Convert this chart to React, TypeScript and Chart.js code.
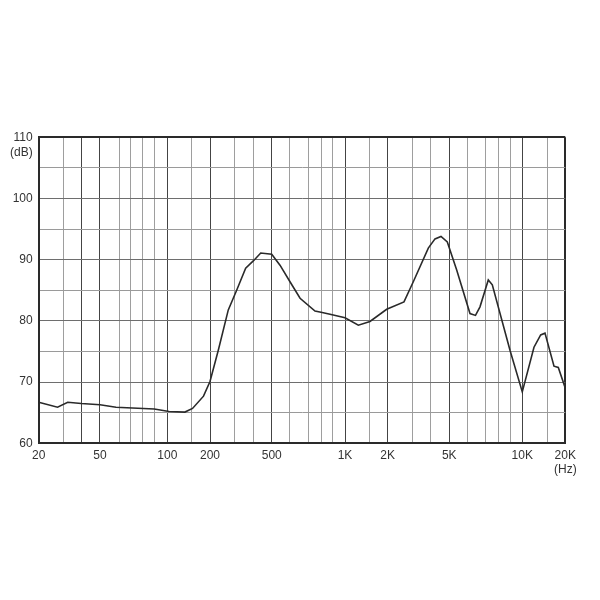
import React, { useEffect, useRef } from 'react';
import { Chart, LinearScale, registerables } from 'chart.js';

// Frequency response curve (Hz, dB)
const FREQ_HZ = [20, 27.3, 32.2, 40, 50, 58.3, 90, 103, 134, 152, 180.6, 200, 229.7, 271.4, 311, 356.4, 400, 437.7, 500, 543, 600, 653, 751, 800, 876, 1000, 1249, 1516, 1969, 2605, 3029, 3850, 4212, 4526, 4882, 5389, 6137, 6427, 6674, 7196, 7507, 8940, 10000, 12090, 13477, 14451, 16697, 17883, 20000];
const LEVEL_DB = [66.7, 65.9, 66.7, 66.5, 66.3, 65.9, 65.6, 65.2, 65.1, 65.7, 67.7, 70.1, 75.2, 81.8, 85.0, 88.6, 89.8, 91.1, 90.9, 89.1, 86.4, 83.7, 81.6, 81.4, 81.1, 80.5, 79.3, 79.9, 81.9, 83.1, 86.4, 91.9, 93.4, 93.8, 92.9, 88.3, 81.2, 80.9, 82.3, 86.7, 85.9, 75.2, 68.4, 75.7, 77.7, 78.0, 72.6, 72.4, 69.0];

// Vertical grid frequencies and the original chart's (non-uniform) axis calibration
const GRID_FREQS = [20, 30, 40, 50, 60, 70, 80, 90, 100, 150, 200, 300, 400, 500, 600, 700, 800, 900, 1000, 1500, 2000, 3000, 4000, 5000, 6000, 7000, 8000, 9000, 10000, 15000, 20000];
const GRID_FRACS = [0, 0.0467, 0.0809, 0.1164, 0.1525, 0.1747, 0.1975, 0.2195, 0.2442, 0.2905, 0.3253, 0.3714, 0.4075, 0.4425, 0.4772, 0.5120, 0.5361, 0.5583, 0.5817, 0.6278, 0.6627, 0.7102, 0.7444, 0.7797, 0.8139, 0.8488, 0.8728, 0.8963, 0.9183, 0.9658, 1];
const MAJOR_FREQS = [40, 50, 100, 200, 500, 1000, 2000, 5000, 10000];

// Tick labels
const X_LABEL_FREQS = [20, 50, 100, 200, 500, 1000, 2000, 5000, 10000, 20000];
const X_LABEL_TEXT = ['20', '50', '100', '200', '500', '1K', '2K', '5K', '10K', '20K'];
const X_UNIT = '(Hz)';
const Y_UNIT = '(dB)';
const Y_MIN = 60;
const Y_MAX = 110;
const Y_STEP = 5;

function freqToFrac(v: number): number {
  if (v <= GRID_FREQS[0]) return 0;
  for (let i = 1; i < GRID_FREQS.length; i++) {
    if (v <= GRID_FREQS[i]) {
      const fa = GRID_FREQS[i - 1], fb = GRID_FREQS[i];
      const t = Math.log(v / fa) / Math.log(fb / fa);
      return GRID_FRACS[i - 1] + t * (GRID_FRACS[i] - GRID_FRACS[i - 1]);
    }
  }
  return 1;
}
function fracToFreq(d: number): number {
  if (d <= 0) return GRID_FREQS[0];
  for (let i = 1; i < GRID_FRACS.length; i++) {
    if (d <= GRID_FRACS[i]) {
      const t = (d - GRID_FRACS[i - 1]) / (GRID_FRACS[i] - GRID_FRACS[i - 1]);
      return GRID_FREQS[i - 1] * Math.pow(GRID_FREQS[i] / GRID_FREQS[i - 1], t);
    }
  }
  return GRID_FREQS[GRID_FREQS.length - 1];
}

class WarpFreqScale extends LinearScale {
  static id = 'warpfreq';
  static defaults = {};
  buildTicks() {
    (this as any).start = (this as any).min;
    (this as any).end = (this as any).max;
    return GRID_FREQS.map((v) => ({ value: v }));
  }
  getPixelForValue(value: number) {
    if (value === null || value === undefined) return NaN;
    return this.getPixelForDecimal(freqToFrac(value));
  }
  getValueForPixel(pixel: number) {
    return fracToFreq(this.getDecimalForPixel(pixel));
  }
}

Chart.register(...registerables, WarpFreqScale);

const FONT_FAMILY = '"Liberation Sans", Arial, Helvetica, sans-serif';
const TEXT_COLOR = '#333333';

const unitPlugin = {
  id: 'unitLabels',
  afterDraw(chart: any) {
    const { ctx, chartArea, scales } = chart;
    const y = scales.y.getPixelForValue(Y_MAX);
    ctx.save();
    ctx.font = `12px ${FONT_FAMILY}`;
    ctx.fillStyle = TEXT_COLOR;
    ctx.textAlign = 'right';
    ctx.textBaseline = 'middle';
    ctx.fillText(Y_UNIT, chartArea.left - 6, y + 15);
    ctx.restore();
  },
};

export default function App() {
  const ref = useRef<HTMLCanvasElement | null>(null);
  useEffect(() => {
    if (!ref.current) return;
    const chart = new Chart(ref.current, {
      type: 'line',
      data: {
        datasets: [
          {
            data: FREQ_HZ.map((f, i) => ({ x: f, y: LEVEL_DB[i] })),
            borderColor: '#2a2a2a',
            borderWidth: 1.6,
            pointRadius: 0,
            tension: 0,
            fill: false,
          },
        ],
      },
      options: {
        animation: false,
        responsive: false,
        layout: { padding: { left: 0, right: 26.7, top: 129.3, bottom: 108.7 } },
        plugins: { legend: { display: false }, tooltip: { enabled: false } },
        scales: {
          x: {
            type: 'warpfreq' as any,
            min: 20,
            max: 20000,
            afterFit: (s: any) => { s.height = 40; },
            border: { display: true, color: '#2a2a2a', width: 2 },
            grid: {
              drawTicks: false,
              color: (c: any) => {
                const v = c.tick?.value;
                if (v === 20000) return '#2a2a2a';
                return MAJOR_FREQS.includes(v) ? '#444444' : '#9e9e9e';
              },
              lineWidth: (c: any) => (c.tick?.value === 20000 ? 2 : 1),
            },
            ticks: {
              autoSkip: false,
              maxRotation: 0,
              padding: 5,
              color: TEXT_COLOR,
              font: { size: 12, family: FONT_FAMILY },
              callback: (value: any) => {
                const idx = X_LABEL_FREQS.indexOf(Number(value));
                if (idx < 0) return '';
                const t = X_LABEL_TEXT[idx];
                return Number(value) === 20000 ? [t, X_UNIT] : t;
              },
            },
          } as any,
          y: {
            type: 'linear',
            min: Y_MIN,
            max: Y_MAX,
            afterFit: (s: any) => { s.width = 30.7; },
            border: { display: true, color: '#2a2a2a', width: 2 },
            grid: {
              drawTicks: false,
              color: (c: any) => {
                const v = c.tick?.value;
                if (v === Y_MAX) return '#2a2a2a';
                return v % 10 === 0 ? '#6e6e6e' : '#9a9a9a';
              },
              lineWidth: (c: any) => (c.tick?.value === Y_MAX ? 2 : 1),
            },
            ticks: {
              stepSize: Y_STEP,
              autoSkip: false,
              padding: 6,
              color: TEXT_COLOR,
              font: { size: 12, family: FONT_FAMILY },
              callback: (value: any) => (Number(value) % 10 === 0 ? String(value) : ''),
            },
          },
        },
      },
      plugins: [unitPlugin],
    });
    return () => chart.destroy();
  }, []);
  return (
    <div style={{ width: 584, height: 584 }}>
      <canvas ref={ref} width={584} height={584} style={{ display: 'block' }} />
    </div>
  );
}
